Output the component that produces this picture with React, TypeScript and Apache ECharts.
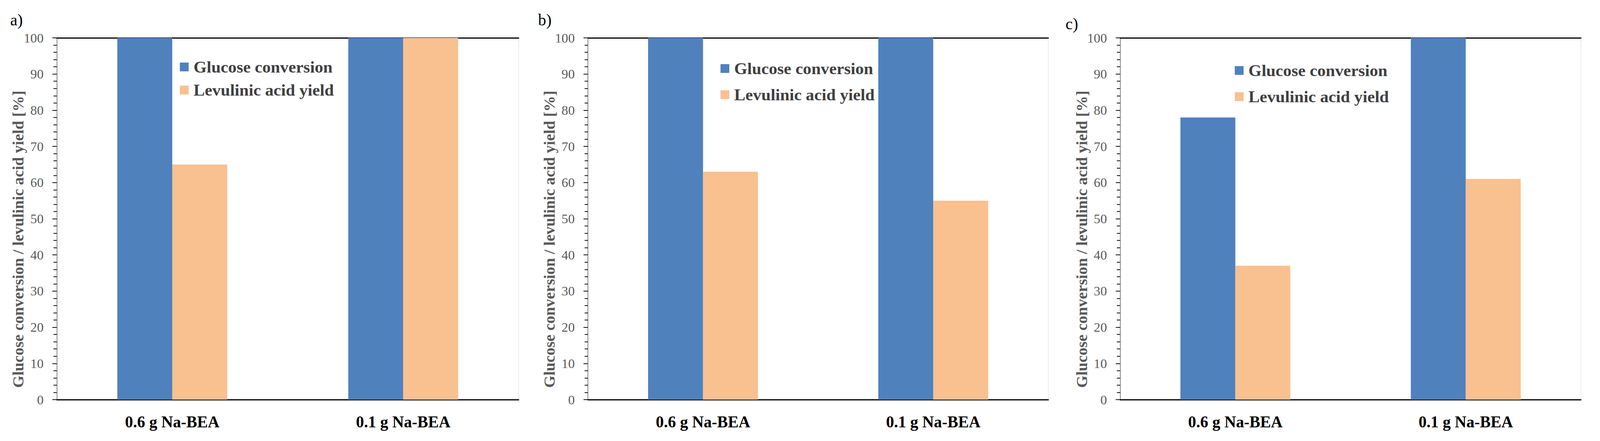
import React, { useEffect, useRef } from "react";
import * as echarts from "echarts";

const categories = ["0.6 g Na-BEA", "0.1 g Na-BEA"];
const seriesNames = ["Glucose conversion", "Levulinic acid yield"];
const panelLabels = ["a)", "b)", "c)"];
const glucoseA = [100, 100];
const levulinicA = [65, 100];
const glucoseB = [100, 100];
const levulinicB = [63, 55];
const glucoseC = [78, 100];
const levulinicC = [37, 61];
const yTitle = "Glucose conversion / levulinic acid yield [%]";

const panelData = [
  [glucoseA, levulinicA],
  [glucoseB, levulinicB],
  [glucoseC, levulinicC],
];

// layout in reference pixels (4368 x 1130), scaled to the real viewport
const REF_W = 4368;
const REF_H = 1130;
const gridLefts = [155, 1605, 3058];
const gridWidths = [1261, 1257, 1258];
const gridTop = 97;
const gridHeight = 927;
const legendLefts = [491, 1967, 3371];
const legendTops = [150, 154, 159];
const legendGaps = [16, 24, 24];
const labelPos = [
  [28, 30],
  [1469, 30],
  [2909, 40],
];

const COLORS = ["#4F81BD", "#F9C090"];
const FONT = "'Liberation Serif', 'Times New Roman', serif";

export default function App() {
  const ref = useRef<HTMLDivElement>(null);
  useEffect(() => {
    document.body.style.margin = "0";
    document.body.style.overflow = "hidden";
    if (!ref.current) return;
    const chart = echarts.init(ref.current, undefined, { renderer: "svg" });

    const build = () => {
      const W = ref.current ? ref.current.clientWidth : REF_W;
      const H = ref.current ? ref.current.clientHeight : REF_H;
      const sx = W / REF_W;
      const sy = H / REF_H;
      const s = Math.min(sx, sy);

      const grid: any[] = [];
      const xAxis: any[] = [];
      const yAxis: any[] = [];
      const series: any[] = [];
      const legend: any[] = [];
      const graphic: any[] = [];

      panelData.forEach((pd, i) => {
        grid.push({
          left: gridLefts[i] * sx,
          top: gridTop * sy,
          width: gridWidths[i] * sx,
          height: gridHeight * sy,
          show: true,
          borderColor: "#d9d9d9",
          borderWidth: 1,
          containLabel: false,
        });
        xAxis.push({
          type: "category",
          gridIndex: i,
          data: categories,
          position: "bottom",
          axisLine: { show: true, lineStyle: { color: "#000", width: 3 * s } },
          axisTick: { show: false },
          axisLabel: {
            margin: 36 * sy,
            color: "#000",
            fontFamily: FONT,
            fontWeight: "bold",
            fontSize: 44 * s,
          },
        });
        xAxis.push({
          type: "category",
          gridIndex: i,
          data: categories,
          position: "top",
          axisLine: { show: true, lineStyle: { color: "#000", width: 3 * s } },
          axisTick: { show: false },
          axisLabel: { show: false },
        });
        yAxis.push({
          type: "value",
          gridIndex: i,
          min: 0,
          max: 100,
          interval: 10,
          axisLine: { show: true, lineStyle: { color: "#7f7f7f", width: 2 * s } },
          axisTick: {
            show: true,
            length: 12 * sx,
            inside: false,
            lineStyle: { color: "#000", width: 2 * s },
          },
          minorTick: {
            show: true,
            splitNumber: 5,
            length: 9 * sx,
            lineStyle: { color: "#000", width: 2 * s },
          },
          splitLine: { show: false },
          axisLabel: {
            margin: 36 * sx,
            color: "#595959",
            fontFamily: FONT,
            fontSize: 36 * s,
          },
        });
        pd.forEach((vals, k) => {
          series.push({
            type: "bar",
            name: seriesNames[k],
            xAxisIndex: i * 2,
            yAxisIndex: i,
            data: vals,
            barWidth: 150 * sx,
            barGap: "0%",
            itemStyle: { color: COLORS[k] },
          });
        });
        legend.push({
          orient: "vertical",
          left: legendLefts[i] * sx,
          top: legendTops[i] * sy,
          padding: 0,
          itemWidth: 24 * s,
          itemHeight: 24 * s,
          itemGap: legendGaps[i] * sy,
          icon: "rect",
          data: seriesNames,
          selectedMode: false,
          textStyle: {
            fontFamily: FONT,
            fontWeight: "bold",
            fontSize: 46 * s,
            lineHeight: 46 * s,
            color: "#404040",
            padding: [0, 0, 0, 8 * sx],
          },
        });
        graphic.push({
          type: "text",
          x: (gridLefts[i] - 105) * sx,
          y: 613 * sy,
          rotation: Math.PI / 2,
          style: {
            text: yTitle,
            fontFamily: FONT,
            fontWeight: "bold",
            fontSize: 43 * s,
            fill: "#595959",
            textAlign: "center",
            textVerticalAlign: "middle",
          },
        });
        graphic.push({
          type: "text",
          left: labelPos[i][0] * sx,
          top: labelPos[i][1] * sy,
          style: {
            text: panelLabels[i],
            fontFamily: FONT,
            fontSize: 44 * s,
            fill: "#000",
          },
        });
      });

      chart.setOption(
        {
          animation: false,
          backgroundColor: "#fff",
          grid,
          xAxis,
          yAxis,
          series,
          legend,
          graphic,
        },
        true
      );
    };

    build();
    const onResize = () => {
      chart.resize();
      build();
    };
    window.addEventListener("resize", onResize);
    return () => {
      window.removeEventListener("resize", onResize);
      chart.dispose();
    };
  }, []);
  return <div ref={ref} style={{ width: "100vw", height: "100vh" }} />;
}
